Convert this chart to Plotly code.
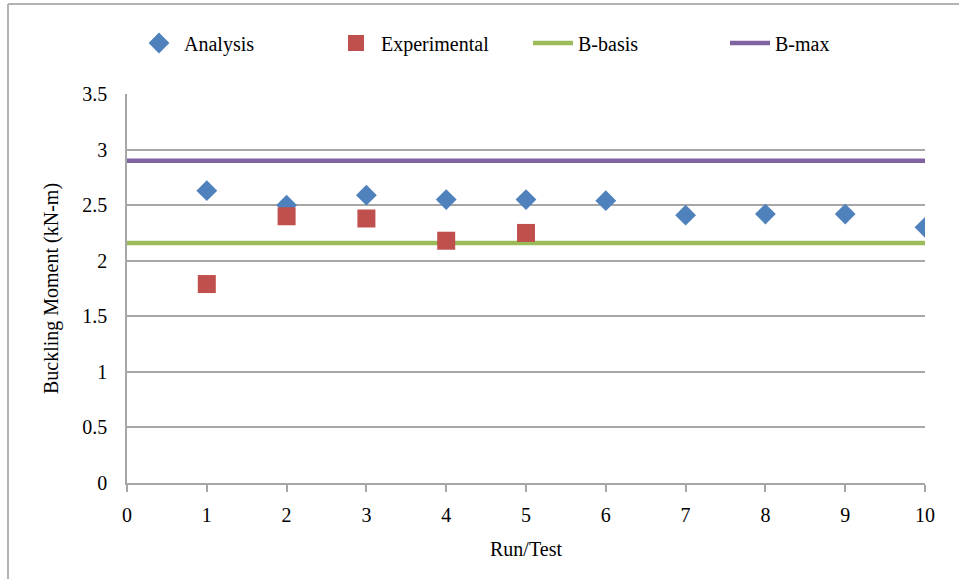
import plotly.graph_objects as go

# Run/Test numbers and buckling moments (kN-m)
analysis_runs = [1, 2, 3, 4, 5, 6, 7, 8, 9, 10]
analysis_values = [2.63, 2.50, 2.59, 2.55, 2.55, 2.54, 2.41, 2.42, 2.42, 2.30]
experimental_runs = [1, 2, 3, 4, 5]
experimental_values = [1.79, 2.40, 2.38, 2.18, 2.25]
b_basis_value = 2.16
b_max_value = 2.90
line_extent = [0, 10]

W, H = 959, 579
ML, MR, MT, MB = 127, 34, 94, 96
FONT = "Liberation Serif, Times New Roman, serif"
GRID = "#a6a6a6"
FS = 20

fig = go.Figure()

fig.add_trace(go.Scatter(
    x=line_extent, y=[b_basis_value] * 2, mode="lines", name="B-basis",
    line=dict(color="#9BBB59", width=4.5), legendrank=3,
))
fig.add_trace(go.Scatter(
    x=line_extent, y=[b_max_value] * 2, mode="lines", name="B-max",
    line=dict(color="#8064A2", width=4.5), legendrank=4,
))
fig.add_trace(go.Scatter(
    x=analysis_runs, y=analysis_values, mode="markers", name="Analysis",
    marker=dict(symbol="diamond", size=16, color="#4F81BD"), legendrank=1,
))
fig.add_trace(go.Scatter(
    x=experimental_runs, y=experimental_values, mode="markers", name="Experimental",
    marker=dict(symbol="square", size=18, color="#C0504D"), legendrank=2,
))

pw, ph = W - ML - MR, H - MT - MB


def px_x(p):
    return (p - ML) / pw


def px_y(p):
    return (H - MB - p) / ph


# outer chart frame (left and top edges)
frame = dict(color="#b3b3b3", width=2)
fig.add_shape(type="line", xref="paper", yref="paper",
              x0=px_x(8), x1=px_x(8), y0=px_y(4), y1=px_y(H + 5), line=frame)
fig.add_shape(type="line", xref="paper", yref="paper",
              x0=px_x(8), x1=px_x(W + 5), y0=px_y(4), y1=px_y(4), line=frame)

fig.update_layout(
    width=W, height=H,
    margin=dict(l=ML, r=MR, t=MT, b=MB, autoexpand=False),
    paper_bgcolor="white", plot_bgcolor="white",
    font=dict(family=FONT, size=FS, color="#000000"),
    showlegend=True,
    legend=dict(
        orientation="h", x=px_x(134), xanchor="left", y=px_y(43), yanchor="middle",
        font=dict(family=FONT, size=FS), itemwidth=40, traceorder="normal",
        entrywidth=142, entrywidthmode="pixels",
    ),
    xaxis=dict(
        range=[0, 10], dtick=1, tick0=0, showgrid=False, zeroline=False,
        showline=True, linecolor=GRID, linewidth=1.5,
        ticks="outside", ticklen=7, tickcolor=GRID, tickwidth=1.5,
        ticklabelstandoff=6,
        title=dict(text="Run/Test", font=dict(family=FONT, size=FS), standoff=17),
        tickfont=dict(family=FONT, size=FS),
    ),
    yaxis=dict(
        range=[0, 3.5], dtick=0.5, tick0=0, showgrid=True, gridcolor=GRID, gridwidth=1.5,
        zeroline=False, showline=True, linecolor=GRID, linewidth=1.5,
        ticks="", ticklabelstandoff=14,
        title=dict(text="Buckling Moment (kN-m)", font=dict(family=FONT, size=FS), standoff=18),
        tickfont=dict(family=FONT, size=FS),
    ),
)

fig.write_html("out.html")
